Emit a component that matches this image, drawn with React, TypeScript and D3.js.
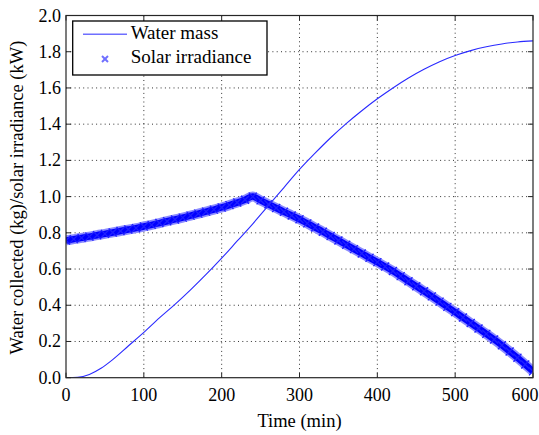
import React from "react";
import * as d3 from "d3";

const waterTime = [0, 15, 30, 45, 60, 80, 100, 120, 140, 160, 180, 200, 220, 240, 260, 280, 300, 320, 340, 360, 380, 400, 420, 440, 460, 480, 500, 520, 540, 560, 580, 600];
const waterMass = [0, 0.002, 0.018, 0.052, 0.1, 0.175, 0.25, 0.33, 0.405, 0.485, 0.57, 0.66, 0.755, 0.85, 0.95, 1.05, 1.15, 1.24, 1.325, 1.403, 1.474, 1.54, 1.6, 1.655, 1.703, 1.745, 1.779, 1.806, 1.827, 1.843, 1.854, 1.86];

const irrTime = d3.range(0, 601, 10);
const irradiance = [
  0.758, 0.765, 0.772, 0.779, 0.787, 0.794, 0.802, 0.81, 0.818, 0.826,
  0.835, 0.844, 0.854, 0.864, 0.874, 0.884, 0.895, 0.906, 0.917, 0.928,
  0.94, 0.953, 0.967, 0.983, 1.0, 0.979, 0.958, 0.937, 0.916, 0.896,
  0.875, 0.852, 0.829, 0.806, 0.782, 0.758, 0.734, 0.71, 0.686, 0.662,
  0.638, 0.614, 0.589, 0.561, 0.533, 0.505, 0.477, 0.449, 0.42, 0.391,
  0.362, 0.332, 0.302, 0.272, 0.242, 0.211, 0.179, 0.145, 0.11, 0.073, 0.035,
];

const xTicks = [0, 100, 200, 300, 400, 500, 600];
const yTicks = [0, 0.2, 0.4, 0.6, 0.8, 1.0, 1.2, 1.4, 1.6, 1.8, 2.0];
const legendLabels = ["Water mass", "Solar irradiance"];

const W = 539, H = 435;
const left = 66, right = 533, top = 15.5, bottom = 377.7;
const FONT = '"Liberation Serif"';

export default function App() {
  const x = d3.scaleLinear().domain([0, 600]).range([left, right]);
  const y = d3.scaleLinear().domain([0, 2]).range([bottom, top]);

  const waterPts: [number, number][] = waterTime.map((t, i) => [t, waterMass[i]]);
  const irrPts: [number, number][] = irrTime.map((t, i) => [t, irradiance[i]]);

  const line = d3
    .line<[number, number]>()
    .x((d) => x(d[0]))
    .y((d) => y(d[1]))
    .curve(d3.curveMonotoneX);

  const waterPath = line(waterPts) || "";
  const irrPath = line(irrPts) || "";

  const tickLen = 5;
  const axisColor = "#262626";
  const ts = (size: number): React.CSSProperties => ({ fontFamily: FONT, fontSize: size + "px" });

  return (
    <svg width={W} height={H} style={{ position: "absolute", left: 0, top: 0, background: "#fff" }}>
      <rect x={0} y={0} width={W} height={H} fill="#fff" />
      <g stroke="#333" strokeWidth={1} strokeDasharray="1,3.3">
        {xTicks.slice(1, -1).map((t) => (
          <line key={"gx" + t} x1={x(t)} x2={x(t)} y1={top} y2={bottom} />
        ))}
        {yTicks.slice(1, -1).map((t) => (
          <line key={"gy" + t} x1={left} x2={right} y1={y(t)} y2={y(t)} />
        ))}
      </g>

      <defs>
        <clipPath id="plotclip">
          <rect x={left} y={top} width={right - left} height={bottom - top} />
        </clipPath>
      </defs>
      <g clipPath="url(#plotclip)">
        <path d={irrPath} fill="none" stroke="#8c8cff" strokeWidth={10} strokeLinejoin="round" />
        <path d={irrPath} fill="none" stroke="#0000ff" strokeWidth={6.5} strokeLinejoin="round" />
        <g stroke="#2020ff" strokeWidth={1.3}>
          {irrPts.map((d, i) => {
            const cx = x(d[0]);
            const cy = y(d[1]);
            const s = 4;
            return (
              <g key={"m" + i}>
                <line x1={cx - s} y1={cy - s} x2={cx + s} y2={cy + s} />
                <line x1={cx - s} y1={cy + s} x2={cx + s} y2={cy - s} />
              </g>
            );
          })}
        </g>
        <path d={waterPath} fill="none" stroke="#2a2aff" strokeWidth={1.1} />
      </g>

      <rect x={left} y={top} width={right - left} height={bottom - top} fill="none" stroke={axisColor} strokeWidth={1.2} />

      <g stroke={axisColor} strokeWidth={1}>
        {xTicks.map((t) => (
          <g key={"tx" + t}>
            <line x1={x(t)} x2={x(t)} y1={bottom} y2={bottom - tickLen} />
            <line x1={x(t)} x2={x(t)} y1={top} y2={top + tickLen} />
          </g>
        ))}
        {yTicks.map((t) => (
          <g key={"ty" + t}>
            <line x1={left} x2={left + tickLen} y1={y(t)} y2={y(t)} />
            <line x1={right} x2={right - tickLen} y1={y(t)} y2={y(t)} />
          </g>
        ))}
      </g>

      <g fill="#000">
        {xTicks.map((t) => {
          const px = Math.min(x(t), W - 14);
          return (
            <text key={"lx" + t} x={px} y={401} textAnchor="middle" style={ts(18)}>
              {t}
            </text>
          );
        })}
        {yTicks.map((t) => (
          <text key={"ly" + t} x={61} y={y(t) + 6} textAnchor="end" style={ts(18)}>
            {t.toFixed(1)}
          </text>
        ))}
      </g>

      <text x={(left + right) / 2} y={427} textAnchor="middle" style={ts(18.5)}>
        Time (min)
      </text>
      <text
        transform={`translate(23, ${(top + bottom) / 2 + 1}) rotate(-90)`}
        textAnchor="middle"
        style={ts(18.5)}
      >
        Water collected (kg)/solar irradiance (kW)
      </text>

      <g>
        <rect x={72.7} y={21} width={194.3} height={54} fill="#fff" stroke="#000" strokeWidth={1.3} />
        <line x1={83} x2={127} y1={34.3} y2={34.3} stroke="#6f6fff" strokeWidth={1.5} />
        <g stroke="#7070ff" strokeWidth={2}>
          <line x1={102} y1={56} x2={108} y2={62} />
          <line x1={102} y1={62} x2={108} y2={56} />
        </g>
        <text x={130.7} y={39} style={ts(19)}>
          {legendLabels[0]}
        </text>
        <text x={130.7} y={62.5} style={ts(19)}>
          {legendLabels[1]}
        </text>
      </g>
    </svg>
  );
}
